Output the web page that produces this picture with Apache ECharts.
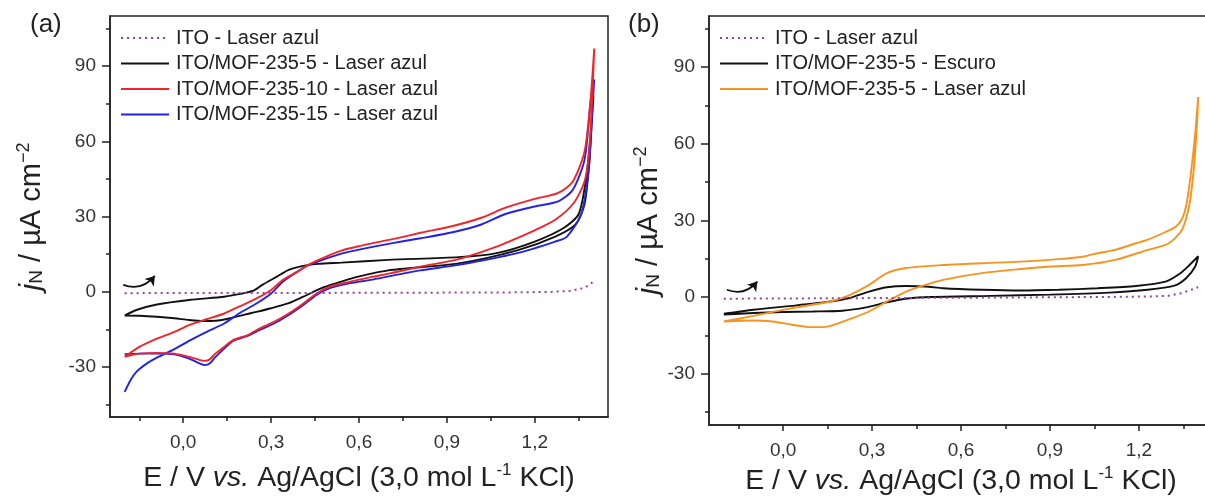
<!DOCTYPE html>
<html><head><meta charset="utf-8">
<script src="https://cdn.jsdelivr.net/npm/echarts@6/dist/echarts.min.js"></script>
<style>html,body{margin:0;padding:0;background:#fff}#c{width:1205px;height:497px}</style>
</head><body><div id="c"></div>
<script>
// ---------- data (E / V, j / µA cm^-2) ----------
const xMajor = [0, 0.3, 0.6, 0.9, 1.2];
const xMinor = [-0.15, 0.15, 0.45, 0.75, 1.05, 1.35];
const yMajor = [-30, 0, 30, 60, 90];
const yMinor = [-45, -15, 15, 45, 75, 105];

const namesA = ['ITO - Laser azul', 'ITO/MOF-235-5 - Laser azul', 'ITO/MOF-235-10 - Laser azul', 'ITO/MOF-235-15 - Laser azul'];
const namesB = ['ITO - Laser azul', 'ITO/MOF-235-5 - Escuro', 'ITO/MOF-235-5 - Laser azul '];

// panel (a)
const aITO = [[-0.2,-0.6],[0.0,-0.5],[0.4,-0.5],[0.8,-0.4],[1.1,-0.3],[1.25,-0.1],[1.32,0.3],[1.37,1.5],[1.4,4.0]];
const aBlack = [[-0.2,-9.5],[-0.16,-7.3],[-0.09,-5.1],[0.02,-3.3],[0.14,-2.0],[0.19,-1.0],[0.24,0.4],[0.27,2.7],[0.32,6.0],[0.36,8.7],[0.41,10.3],[0.46,11.1],[0.54,11.6],[0.7,12.7],[0.94,13.8],[1.07,15.4],[1.2,20],[1.3,25.5],[1.35,31],[1.375,45],[1.39,62],[1.4,78],
  [1.395,68],[1.385,50],[1.37,35],[1.34,27],[1.27,22],[1.14,16.5],[0.94,11.3],[0.7,8.5],[0.59,5.8],[0.54,4.0],[0.48,1.8],[0.41,-2.0],[0.36,-4.6],[0.3,-6.6],[0.23,-8.6],[0.16,-10.6],[0.11,-11.6],[0.07,-11.7],[0.02,-11.3],[-0.03,-10.6],[-0.09,-10.0],[-0.15,-9.6],[-0.2,-9.5]];
const aRed = [[-0.2,-26],[-0.15,-22],[-0.09,-18.7],[-0.03,-16],[0.02,-13.3],[0.08,-11],[0.14,-8.7],[0.19,-6],[0.25,-2.7],[0.3,0.7],[0.34,4.7],[0.39,8],[0.43,10.9],[0.48,13.6],[0.54,16.4],[0.6,18.2],[0.66,19.7],[0.72,21.1],[0.81,23.5],[0.92,26.2],[1.02,29.6],[1.1,33.5],[1.2,37],[1.28,39.4],[1.33,44],[1.37,56],[1.39,76],[1.403,97],
  [1.395,75],[1.385,55],[1.37,44],[1.333,35.4],[1.27,28.7],[1.2,24.5],[1.14,21.4],[1.07,18],[0.94,13],[0.81,10],[0.71,7.4],[0.64,5.8],[0.57,4],[0.5,2],[0.455,-0.7],[0.41,-4.7],[0.36,-8.7],[0.31,-12],[0.26,-14.7],[0.22,-17.3],[0.17,-19.3],[0.14,-22],[0.11,-24.7],[0.09,-27],[0.074,-27.6],[0.057,-27.3],[0.02,-26],[-0.03,-24.7],[-0.09,-24.4],[-0.15,-24.7],[-0.2,-26]];
const aBlue = [[-0.2,-40],[-0.18,-35.3],[-0.16,-32],[-0.125,-28.7],[-0.09,-26.3],[-0.03,-22.9],[0.02,-19.6],[0.08,-16],[0.14,-12.7],[0.19,-8.7],[0.25,-4.7],[0.3,-0.7],[0.34,4],[0.39,8],[0.43,10.7],[0.48,12.9],[0.54,15.2],[0.6,16.8],[0.71,19.3],[0.81,21.3],[0.92,23.7],[1.02,26.9],[1.1,31],[1.2,34],[1.28,36],[1.33,40.7],[1.37,52.7],[1.39,75],[1.403,84.7],
  [1.395,70],[1.385,50],[1.36,31.4],[1.31,22],[1.27,20],[1.14,15.4],[0.94,10.7],[0.81,8.5],[0.71,6.3],[0.64,4.7],[0.57,3.4],[0.5,1.4],[0.455,-1.3],[0.41,-5.3],[0.36,-9.3],[0.31,-12.7],[0.26,-15.3],[0.22,-17.6],[0.17,-19.6],[0.14,-22.7],[0.11,-26],[0.09,-28.7],[0.074,-29.3],[0.057,-28.7],[0.02,-26.7],[-0.03,-25],[-0.09,-24.7],[-0.15,-24.7],[-0.2,-24.9]];
const aArrow = [[-0.205,2.7],[-0.097,6.3]];

// panel (b)
const bITO = [[-0.2,-0.6],[0.0,-0.5],[0.4,-0.3],[0.8,-0.1],[1.1,0.1],[1.25,0.3],[1.3,0.6],[1.345,1.6],[1.4,3.9]];
const bBlack = [[-0.2,-6.5],[-0.1,-4.9],[0.03,-3.4],[0.16,-1.7],[0.22,-0.4],[0.29,2.2],[0.35,3.9],[0.415,4.4],[0.48,4.2],[0.54,3.5],[0.67,2.9],[0.8,2.6],[0.93,2.9],[1.06,3.5],[1.19,4.4],[1.29,6.1],[1.34,9.4],[1.37,12.5],[1.4,16],
  [1.39,12],[1.36,7.5],[1.32,4.5],[1.23,2.9],[1.1,1.8],[0.9,1.0],[0.7,0.5],[0.5,0.1],[0.42,-0.5],[0.35,-2],[0.28,-4],[0.2,-5.3],[0.1,-5.6],[0.0,-5.8],[-0.1,-6.2],[-0.2,-6.8]];
const bOrange = [[-0.2,-9.5],[-0.1,-7.3],[0.03,-4.3],[0.16,-1.7],[0.22,0.6],[0.29,4.8],[0.35,9.4],[0.415,11.4],[0.54,12.6],[0.67,13.3],[0.8,13.9],[0.93,14.9],[1.01,15.8],[1.06,17.2],[1.12,18.5],[1.19,21.1],[1.23,22.5],[1.29,25.5],[1.323,27.5],[1.345,30.5],[1.36,36],[1.375,48],[1.39,64],[1.4,78.3],
  [1.395,66],[1.385,50],[1.37,36],[1.345,26.3],[1.3,21],[1.23,18.5],[1.12,14.6],[1.01,12.6],[0.9,12],[0.8,11],[0.67,9.4],[0.54,6.8],[0.48,4.8],[0.415,2.2],[0.35,-1.7],[0.29,-5.6],[0.22,-8.8],[0.16,-11.2],[0.13,-11.7],[0.09,-11.7],[0.03,-10.8],[-0.035,-9.5],[-0.1,-9.1],[-0.2,-9.5]];
const bArrow = [[-0.19,2.9],[-0.087,6.1]];

// ---------- chart ----------
const FONT = 'Liberation Sans, Arial, sans-serif';
const frame = '#222';
const cPurple = '#9b3aa8', cBlack = '#111', cRed = '#f2242a', cBlue = '#2222e6', cOrange = '#f7931e';

function xAxes(gi) {
  return [{
    type: 'value', gridIndex: gi, min: -0.25, max: 1.45, position: 'bottom',
    axisLine: {show: true, onZero: false, lineStyle: {color: frame, width: 1.5}},
    axisTick: {show: true, customValues: xMajor, length: 6, lineStyle: {color: frame, width: 1.5}},
    axisLabel: {customValues: xMajor, color: '#333', fontSize: 19, fontFamily: FONT, margin: 16,
      formatter: v => v.toFixed(1).replace('.', ',')},
    splitLine: {show: false},
    name: '{n|E / V }{i|vs.}{n| Ag/AgCl (3,0 mol L}{sup|-1}{n| KCl)}',
    nameLocation: 'middle', nameGap: gi === 0 ? 45 : 37,
    nameTextStyle: {color: '#222', fontFamily: FONT, rich: {
      n: {fontSize: 28.5, fontFamily: FONT, color: '#222'},
      i: {fontSize: 28.5, fontFamily: FONT, fontStyle: 'italic', color: '#222'},
      sup: {fontSize: 17, fontFamily: FONT, color: '#222', padding: [0, 0, 15, 0]}
    }}
  }, {
    type: 'value', gridIndex: gi, min: -0.25, max: 1.45, position: 'bottom',
    axisLine: {show: false, onZero: false}, axisLabel: {show: false}, splitLine: {show: false},
    axisTick: {show: true, customValues: xMinor, length: 4, lineStyle: {color: frame, width: 1.5}}
  }];
}
function yAxes(gi) {
  return [{
    type: 'value', gridIndex: gi, min: -50, max: 110, position: 'left',
    axisLine: {show: true, onZero: false, lineStyle: {color: frame, width: 1.5}},
    axisTick: {show: true, customValues: yMajor, length: 8, lineStyle: {color: frame, width: 1.5}},
    axisLabel: {customValues: yMajor, color: '#333', fontSize: 19, fontFamily: FONT, margin: 14},
    splitLine: {show: false},
    name: '{i|j}{sub|N}{n| / µA cm}{sup|−2}',
    nameLocation: 'middle', nameRotate: 90, nameGap: gi === 0 ? 62 : 44,
    nameTextStyle: {color: '#222', fontFamily: FONT, rich: {
      n: {fontSize: 29, fontFamily: FONT, color: '#222'},
      i: {fontSize: 30, fontFamily: FONT, fontStyle: 'italic', color: '#222'},
      sub: {fontSize: 19, fontFamily: FONT, color: '#222', padding: [11, 0, 0, 0]},
      sup: {fontSize: 18, fontFamily: FONT, color: '#222', padding: [0, 0, 15, 0]}
    }}
  }, {
    type: 'value', gridIndex: gi, min: -50, max: 110, position: 'left',
    axisLine: {show: false, onZero: false}, axisLabel: {show: false}, splitLine: {show: false},
    axisTick: {show: true, customValues: yMinor, length: 4, lineStyle: {color: frame, width: 1.5}}
  }];
}

function curve(name, data, color, xi, yi, dotted) {
  return {
    type: 'line', name: name, data: data, xAxisIndex: xi, yAxisIndex: yi,
    symbol: 'none', smooth: dotted ? false : 0.25, animation: false, z: dotted ? 3 : 2,
    lineStyle: {color: color, width: dotted ? 2 : 1.9, type: dotted ? [2, 4] : 'solid'},
    itemStyle: {color: color}
  };
}
function arrow(data, xi, yi) {
  return {
    type: 'lines', coordinateSystem: 'cartesian2d', xAxisIndex: xi, yAxisIndex: yi,
    symbol: ['none', 'arrow'], symbolSize: 9, animation: false, silent: true,
    lineStyle: {color: '#111', width: 1.8, curveness: -0.35, opacity: 1},
    data: [{coords: data}]
  };
}
function legend(names, left) {
  return {data: names, left: left, top: 28, orient: 'vertical', padding: 0,
    itemWidth: 48, itemHeight: 20, itemGap: 5.5, selectedMode: false,
    itemStyle: {opacity: 0},
    textStyle: {fontSize: 20, fontFamily: FONT, color: '#222', padding: [0, 0, 0, 2]}};
}

const chart = echarts.init(document.getElementById('c'), null, {renderer: 'canvas'});
chart.setOption({
  backgroundColor: '#fff',
  animation: false,
  grid: [
    {left: 110, top: 16, width: 498, height: 401, show: true, borderColor: frame, borderWidth: 1.5, containLabel: false, outerBoundsMode: 'none'},
    {left: 709, top: 16, width: 504, height: 409, show: true, borderColor: frame, borderWidth: 1.5, containLabel: false, outerBoundsMode: 'none'}
  ],
  xAxis: [...xAxes(0), ...xAxes(1)],
  yAxis: [...yAxes(0), ...yAxes(1)],
  legend: [legend(namesA, 120), legend(namesB, 719)],
  graphic: [
    {type: 'text', left: 30, top: 12, style: {text: '(a)', fontSize: 26, fontFamily: FONT, fill: '#222'}},
    {type: 'text', left: 628, top: 12, style: {text: '(b)', fontSize: 26, fontFamily: FONT, fill: '#222'}}
  ],
  series: [
    curve(namesA[1], aBlack, cBlack, 0, 0, false),
    curve(namesA[3], aBlue, cBlue, 0, 0, false),
    curve(namesA[2], aRed, cRed, 0, 0, false),
    curve(namesA[0], aITO, cPurple, 0, 0, true),
    arrow(aArrow, 0, 0),
    curve(namesB[1], bBlack, cBlack, 2, 2, false),
    curve(namesB[2], bOrange, cOrange, 2, 2, false),
    curve(namesB[0], bITO, cPurple, 2, 2, true),
    arrow(bArrow, 2, 2)
  ]
});
</script></body></html>
